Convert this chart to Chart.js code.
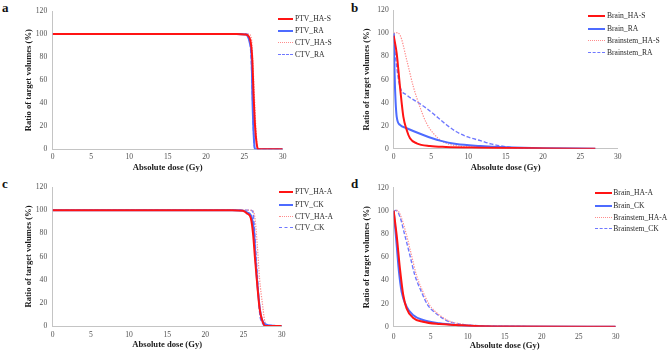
<!DOCTYPE html>
<html>
<head>
<meta charset="utf-8">
<script src="https://cdn.jsdelivr.net/npm/chart.js@4.4.1/dist/chart.umd.min.js"></script>
<style>
  html, body { margin:0; padding:0; background:#fff; }
  body { width:669px; height:353px; position:relative; overflow:hidden; font-family:"Liberation Serif", "Times New Roman", serif; }
  .pane { position:absolute; }
  .letter { position:absolute; font-weight:bold; font-size:13px; color:#111; line-height:13px; }
  .lg { position:absolute; height:0; }
  .lt { position:absolute; font-size:7.6px; color:#2a2a2a; line-height:9px; white-space:nowrap; }
</style>
</head>
<body>
<div class="letter" style="left:2px;top:1px">a</div>
<div class="letter" style="left:351px;top:1px">b</div>
<div class="letter" style="left:2px;top:177px">c</div>
<div class="letter" style="left:351px;top:177px">d</div>
<div class="pane" style="left:0;top:0;width:290px;height:176px"><canvas id="ca"></canvas></div>
<div class="pane" style="left:335px;top:0;width:290px;height:176px"><canvas id="cb"></canvas></div>
<div class="pane" style="left:0;top:176px;width:290px;height:177px"><canvas id="cc"></canvas></div>
<div class="pane" style="left:335px;top:176px;width:290px;height:177px"><canvas id="cd"></canvas></div>
<script>
// ---------- tick labels ----------
const xTicks = [0, 5, 10, 15, 20, 25, 30];
const yTicks = [0, 20, 40, 60, 80, 100, 120];
const xTitle = "Absolute dose (Gy)";
const yTitle = "Ratio of target volumes (%)";

// ---------- panel a ----------
const namesA = ["PTV_HA-S", "PTV_RA", "CTV_HA-S", "CTV_RA"];
const doseA_PTV_HAS = [0, 24, 25.1, 25.5, 25.87, 26.04, 26.2, 26.4, 26.6, 26.8, 30];
const volA_PTV_HAS  = [100, 100, 99.6, 98.5, 91, 77, 48, 19.5, 5, 0, 0];
const doseA_PTV_RA  = [0, 24, 25.1, 25.4, 25.7, 25.96, 26.04, 26.17, 26.3, 26.4, 30];
const volA_PTV_RA   = [100, 100, 99.6, 98.5, 92.7, 77, 48, 19.5, 3.7, 0, 0];
const doseA_CTV_HAS = [0, 25, 25.6, 25.96, 26.1, 26.3, 26.5, 26.7, 26.85, 30];
const volA_CTV_HAS  = [100, 100, 100, 94, 77, 48, 19.5, 2, 0, 0];
const doseA_CTV_RA  = [0, 24.8, 25.3, 25.65, 25.9, 26.04, 26.17, 26.3, 26.4, 30];
const volA_CTV_RA   = [100, 100, 100, 95.6, 77, 48, 19.5, 2.5, 0, 0];

// ---------- panel b ----------
const namesB = ["Brain_HA-S", "Brain_RA", "Brainstem_HA-S", "Brainstem_RA"];
const doseB_Brain_HAS = [0, 0.4, 0.84, 1.29, 1.74, 2.18, 3.08, 4.86, 7, 11.6, 16, 21, 27];
const volB_Brain_HAS  = [98, 82.7, 53.8, 27.8, 16.2, 9, 4.7, 2.3, 1.5, 0.9, 0.5, 0.2, 0];
const doseB_Brain_RA  = [0, 0.08, 0.17, 0.4, 0.84, 1.74, 3.96, 6.2, 8.4, 11.6, 15, 20, 27];
const volB_Brain_RA   = [100, 75, 53.8, 27.8, 20.6, 17.7, 11.9, 7, 4, 2.3, 1.2, 0.4, 0];
const doseB_Stem_HAS  = [0, 0.3, 0.84, 1.74, 2.63, 3.5, 4.4, 5.3, 6.6, 8.4, 11.6, 15, 18];
const volB_Stem_HAS   = [100, 100.6, 98.6, 77, 53.8, 36.4, 22, 13.4, 6, 2.6, 1.2, 0.3, 0];
const doseB_Stem_RA   = [0, 0.1, 0.4, 0.84, 1.74, 3.08, 4.4, 5.76, 7.1, 8.4, 9.8, 11.6, 13, 15, 16.5, 18];
const volB_Stem_RA    = [100, 90, 71, 53.8, 46.6, 40.8, 35, 27.8, 20.6, 14.7, 10.4, 7, 4.2, 1.7, 0.5, 0];

// ---------- panel c ----------
const namesC = ["PTV_HA-A", "PTV_CK", "CTV_HA-A", "CTV_CK"];
const doseC_PTV_HAA = [0, 23.5, 24.9, 25.5, 25.96, 26.26, 26.5, 26.8, 27.1, 27.5, 27.9, 30];
const volC_PTV_HAA  = [100, 100, 99.5, 97, 93, 78.6, 58.5, 35.4, 15.3, 3.7, 0, 0];
const doseC_PTV_CK  = [0, 23.5, 24.9, 25.5, 26.1, 26.4, 26.6, 26.9, 27.26, 27.9, 28.8, 29.4, 30];
const volC_PTV_CK   = [100, 100, 99.6, 98, 93, 78.6, 55.5, 29.6, 9.5, 1.4, 0.3, 0, 0];
const doseC_CTV_HAA = [0, 25.5, 26.2, 26.5, 26.8, 27.1, 27.5, 27.8, 28.35, 30];
const volC_CTV_HAA  = [100, 100, 99.5, 93, 70, 41, 18, 3.7, 0, 0];
const doseC_CTV_CK  = [0, 25.2, 25.7, 26.2, 26.4, 26.6, 26.9, 27.1, 27.5, 27.8, 30];
const volC_CTV_CK   = [100, 100, 100, 99, 87, 64, 35, 12, 2.3, 0, 0];

// ---------- panel d ----------
const namesD = ["Brain_HA-A", "Brain_CK", "Brainstem_HA-A", "Brainstem_CK"];
const doseD_Brain_HAA = [0, 0.4, 0.84, 1.29, 1.74, 2.6, 3.95, 6.2, 8.4, 11, 15, 30];
const volD_Brain_HAA  = [100, 79, 50.4, 27.4, 15.9, 7.8, 4.3, 2.3, 1.5, 0.6, 0.2, 0];
const doseD_Brain_CK  = [0, 0.4, 0.71, 1.07, 1.74, 2.6, 3.95, 6.2, 8.4, 11, 15, 30];
const volD_Brain_CK   = [100, 70.5, 47.5, 30.2, 17.3, 10.1, 5.8, 2.9, 1.5, 0.7, 0.2, 0];
const doseD_Stem_HAA  = [0, 0.48, 1.07, 1.74, 2.4, 3.07, 3.95, 4.85, 6.18, 7.5, 9.3, 11.5, 15, 30];
const volD_Stem_HAA   = [100, 100.4, 93.6, 79, 61.9, 44.6, 30.2, 18.7, 10.1, 4.9, 2.1, 0.9, 0.2, 0];
const doseD_Stem_CK   = [0, 0.3, 0.84, 1.5, 2.18, 2.85, 3.74, 4.6, 6.0, 7.3, 9.1, 11.5, 15, 30];
const volD_Stem_CK    = [100, 100.4, 95, 79, 61.9, 44.6, 30.2, 18.7, 10.1, 4.9, 2.1, 0.9, 0.2, 0];

// ---------- styles ----------
const STY = [
  { color: '#ff1414', width: 2,   dash: [] },
  { color: '#4d6bff', width: 2,   dash: [] },
  { color: '#ff8c8c', width: 1.2, dash: [1.3, 1.3] },
  { color: '#6f78ff', width: 1.4, dash: [4, 2] }
];

function pts(d, v) { return d.map((x, i) => ({ x: x, y: v[i] })); }

function makeDatasets(names, series) {
  return names.map((n, i) => ({
    label: n,
    data: pts(series[i][0], series[i][1]),
    borderColor: STY[i].color,
    borderWidth: STY[i].width,
    borderDash: STY[i].dash,
    pointRadius: 0,
    showLine: true,
    fill: false,
    cubicInterpolationMode: 'monotone'
  }));
}

function makeChart(id, names, series, g) {
  const tickFont = { family: "'Liberation Serif', serif", size: 7.6 };
  const titleFont = { family: "'Liberation Serif', serif", size: 8.6, weight: 'bold' };
  new Chart(document.getElementById(id), {
    type: 'scatter',
    data: { datasets: makeDatasets(names, series) },
    options: {
      responsive: true,
      maintainAspectRatio: false,
      animation: false,
      events: [],
      layout: { padding: { top: g.padTop, right: g.padRight, left: 0, bottom: 0 } },
      plugins: { legend: { display: false }, tooltip: { enabled: false } },
      scales: {
        x: {
          type: 'linear', min: 0, max: 30,
          afterBuildTicks: s => { s.ticks = xTicks.map(v => ({ value: v })); },
          ticks: { font: tickFont, color: '#505050', padding: g.xPad, maxRotation: 0 },
          grid: { display: false, drawTicks: false },
          border: { display: true, color: '#c4c4c4', width: 1 },
          title: { display: true, text: xTitle, font: titleFont, color: '#1a1a1a', padding: { top: 0, bottom: g.xTitlePad } },
          afterFit: s => { s.height = g.xH; }
        },
        y: {
          type: 'linear', min: 0, max: 120,
          afterBuildTicks: s => { s.ticks = yTicks.map(v => ({ value: v })); },
          ticks: { font: tickFont, color: '#505050', padding: g.yPad },
          grid: { display: false, drawTicks: false },
          border: { display: true, color: '#c4c4c4', width: 1 },
          title: { display: true, text: yTitle, font: titleFont, color: '#1a1a1a', padding: { top: g.yTitlePad, bottom: 0 } },
          afterFit: s => { s.width = g.yW; }
        }
      }
    }
  });
}

function makeLegend(names, g) {
  names.forEach((n, i) => {
    const y = g.ys[i];
    const l = document.createElement('div');
    l.className = 'lg';
    const st = STY[i];
    const styleName = st.dash.length === 0 ? 'solid' : (st.dash[0] < 2 ? 'dotted' : 'dashed');
    l.style.cssText = `left:${g.lx}px;top:${y - st.width / 2}px;width:${g.lw}px;border-top:${Math.max(1, st.width)}px ${styleName} ${st.color};`;
    document.body.appendChild(l);
    const t = document.createElement('div');
    t.className = 'lt';
    t.textContent = n;
    t.style.left = g.tx + 'px';
    t.style.top = (y - 4.8) + 'px';
    document.body.appendChild(t);
  });
}

makeChart('ca', namesA, [[doseA_PTV_HAS, volA_PTV_HAS], [doseA_PTV_RA, volA_PTV_RA], [doseA_CTV_HAS, volA_CTV_HAS], [doseA_CTV_RA, volA_CTV_RA]],
  { padTop: 11, padRight: 7.3, yW: 52.7, xH: 26.7, xPad: 3.5, yPad: 5.5, xTitlePad: 2.8, yTitlePad: 23.8 });
makeChart('cb', namesB, [[doseB_Brain_HAS, volB_Brain_HAS], [doseB_Brain_RA, volB_Brain_RA], [doseB_Stem_HAS, volB_Stem_HAS], [doseB_Stem_RA, volB_Stem_RA]],
  { padTop: 10.3, padRight: 7.3, yW: 58.7, xH: 27.3, xPad: 3.5, yPad: 5, xTitlePad: 2.8, yTitlePad: 27.1 });
makeChart('cc', namesC, [[doseC_PTV_HAA, volC_PTV_HAA], [doseC_PTV_CK, volC_PTV_CK], [doseC_CTV_HAA, volC_CTV_HAA], [doseC_CTV_CK, volC_CTV_CK]],
  { padTop: 11, padRight: 7.3, yW: 52.7, xH: 27, xPad: 4.5, yPad: 5.5, xTitlePad: 3.3, yTitlePad: 23.8 });
makeChart('cd', namesD, [[doseD_Brain_HAA, volD_Brain_HAA], [doseD_Brain_CK, volD_Brain_CK], [doseD_Stem_HAA, volD_Stem_HAA], [doseD_Stem_CK, volD_Stem_CK]],
  { padTop: 11.7, padRight: 6.7, yW: 58.7, xH: 26.3, xPad: 5.5, yPad: 5, xTitlePad: 1.8, yTitlePad: 27.1 });

makeLegend(namesA, { lx: 277.7, lw: 15.6, tx: 295, ys: [19, 30.7, 42.7, 54.3] });
makeLegend(namesB, { lx: 588.3, lw: 16.7, tx: 607, ys: [16, 29, 41, 53] });
makeLegend(namesC, { lx: 279, lw: 14, tx: 295, ys: [192, 205, 216.7, 228] });
makeLegend(namesD, { lx: 595, lw: 17, tx: 613.3, ys: [192.7, 205.7, 217.3, 228.7] });
</script>
</body>
</html>
